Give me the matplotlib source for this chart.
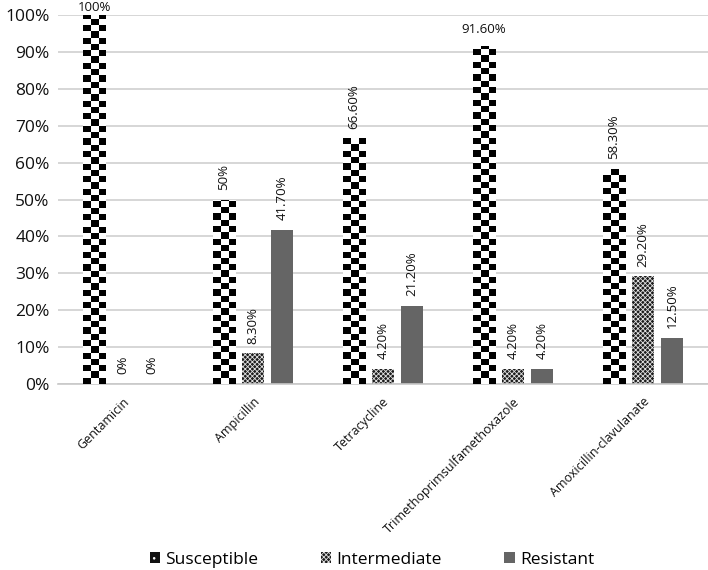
import numpy as np
import matplotlib
matplotlib.use("Agg")
import matplotlib.pyplot as plt
from matplotlib.patches import Patch

plt.rcParams['font.family'] = ['Open Sans', 'DejaVu Sans']
plt.rcParams['hatch.linewidth'] = 0.6

drugs = ['Gentamicin', 'Ampicillin', 'Tetracycline',
         'Trimethoprimsulfamethoxazole', 'Amoxicillin-clavulanate']
series = ['Susceptible', 'Intermediate', 'Resistant']
susceptible = [100, 50, 66.6, 91.6, 58.3]
intermediate = [0, 8.3, 4.2, 4.2, 29.2]
resistant = [0, 41.7, 21.2, 4.2, 12.5]
yticks = [0, 10, 20, 30, 40, 50, 60, 70, 80, 90, 100]

W, H = 708, 570
fig = plt.figure(figsize=(W / 100, H / 100), dpi=100)
ax = fig.add_axes([58 / W, 186 / H, 650 / W, 369 / H])

x = np.arange(len(drugs))
bw = 0.17
off = 0.223

def fmt(v):
    return '%d%%' % v if float(v).is_integer() else '%.2f%%' % v

# checkerboard bars
bars_s = ax.bar(x - off, np.array(susceptible) / 100, bw, color='white', linewidth=0, zorder=2)
cx = 7.6 / 130
cy = 6.3 / 369
for b in bars_s:
    x0, y0 = b.get_x(), b.get_y()
    h = b.get_height()
    if h <= 0:
        continue
    nx = int(np.ceil(bw / cx)) + 1
    ny = int(np.ceil(h / cy)) + 1
    ii, jj = np.indices((ny, nx))
    img = ((ii + jj) % 2).astype(float)
    im = ax.imshow(img, cmap='gray', origin='lower', interpolation='nearest',
                   extent=[x0, x0 + nx * cx, y0, y0 + ny * cy], aspect='auto', zorder=3)
    im.set_clip_path(b)

bars_i = ax.bar(x, np.array(intermediate) / 100, bw, facecolor='#1c1c1c', edgecolor='#e0e0e0',
                hatch='xxxxxxx', linewidth=0, zorder=2)
bars_r = ax.bar(x + off, np.array(resistant) / 100, bw, color='#656565', linewidth=0, zorder=2)

for xs, vals in [(x - off, susceptible), (x, intermediate), (x + off, resistant)]:
    for xi, v in zip(xs, vals):
        if v > 90:
            dy = 1 if v >= 100 else 7
            ax.annotate(fmt(v), (xi, v / 100), xytext=(0, dy), textcoords='offset points',
                        ha='center', va='bottom', fontsize=9.5, color='#111111',
                        annotation_clip=False)
        else:
            ax.annotate(fmt(v), (xi, v / 100), xytext=(0, 7), textcoords='offset points',
                        ha='center', va='bottom', rotation=90, fontsize=9.5, color='#111111')

ax.set_xlim(-0.5, len(drugs) - 0.5)
ax.set_ylim(0, 1.0)
ax.set_yticks(np.array(yticks) / 100)
ax.set_yticklabels(['%d%%' % t for t in yticks], fontsize=12.5, color='#111111')
ax.set_xticks(x)
ax.set_xticklabels(drugs, rotation=45, ha='right', rotation_mode='anchor',
                   fontsize=9, color='#111111')
ax.tick_params(axis='both', length=0)
ax.tick_params(axis='x', pad=8)
ax.tick_params(axis='y', pad=6)
ax.yaxis.grid(True, color='#d0d0d0', linewidth=1.2, zorder=0)
ax.set_axisbelow(True)
for s in ['top', 'right', 'left']:
    ax.spines[s].set_visible(False)
ax.spines['bottom'].set_color('#c8c8c8')
ax.spines['bottom'].set_linewidth(1.2)

handles = [Patch(facecolor='#111111', edgecolor='white', hatch='..', linewidth=0),
           Patch(facecolor='#1c1c1c', edgecolor='#e0e0e0', hatch='xxxxxxx', linewidth=0),
           Patch(facecolor='#656565', linewidth=0)]
fig.legend(handles, series, loc='center', bbox_to_anchor=(372 / W, 1 - 560 / H),
           ncol=3, frameon=False, fontsize=12.5, handlelength=0.6, handleheight=0.6,
           handletextpad=0.3, columnspacing=3.6)

fig.savefig('out.png', dpi=100)
